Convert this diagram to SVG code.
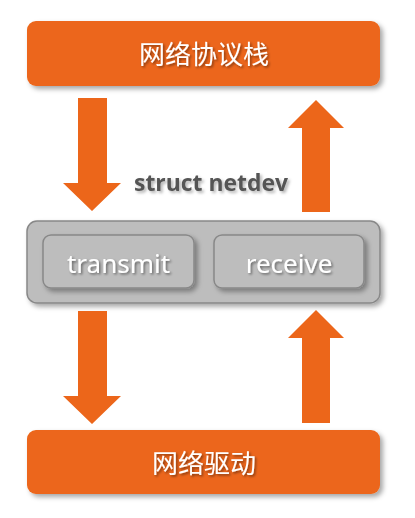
<svg xmlns="http://www.w3.org/2000/svg" width="415" height="518" viewBox="0 0 415 518">
<defs>
<filter id="sh" x="-10%" y="-20%" width="125%" height="150%">
<feDropShadow dx="3" dy="3" stdDeviation="2.5" flood-color="#000" flood-opacity="0.35"/>
</filter>
<filter id="tsh" x="-10%" y="-30%" width="125%" height="170%">
<feDropShadow dx="1.5" dy="1.5" stdDeviation="1" flood-color="#000" flood-opacity="0.45"/>
</filter>
<filter id="gsh" x="-10%" y="-30%" width="125%" height="170%">
<feDropShadow dx="2" dy="2" stdDeviation="1.5" flood-color="#000" flood-opacity="0.3"/>
</filter>
</defs>
<style>
.orange{fill:#EC661A;}
.box{fill:#EC661A;filter:url(#sh);}
.grey{fill:#BDBDBD;stroke:#888888;stroke-width:1.5;filter:url(#sh);}
.cjk{font-family:"Noto Sans CJK SC","Noto Sans",sans-serif;font-size:26px;fill:#FFFFFF;text-anchor:middle;filter:url(#tsh);}
.lbl{font-family:"Noto Sans","Open Sans",sans-serif;font-size:26px;fill:#FFFFFF;text-anchor:middle;filter:url(#tsh);}
.title{font-family:"Open Sans","Noto Sans",sans-serif;font-weight:bold;font-size:22.5px;fill:#555555;filter:url(#gsh);}
</style>
<rect width="415" height="518" fill="#FFFFFF"/>
<g id="stack">
<rect class="box" x="27" y="21" width="353" height="65" rx="9"/>
<text class="cjk" x="204" y="64">网络协议栈</text>
</g>
<g id="netdev">
<rect class="grey" x="27" y="221" width="353" height="82" rx="10"/>
<text class="title" x="134" y="191" textLength="154" lengthAdjust="spacingAndGlyphs">struct netdev</text>
</g>
<g id="transmit">
<rect class="grey" x="43" y="235" width="151" height="53" rx="8"/>
<text class="lbl" x="118.5" y="273">transmit</text>
</g>
<g id="receive">
<rect class="grey" x="214" y="235" width="150" height="53" rx="8"/>
<text class="lbl" x="289" y="273">receive</text>
</g>
<g id="driver">
<rect class="box" x="27" y="430" width="353" height="64" rx="9"/>
<text class="cjk" x="204" y="473">网络驱动</text>
</g>
<g id="connectors">
<polygon class="orange" points="78,98 107,98 107,183 121,183 92,211 63,183 78,183"/>
<polygon class="orange" points="302,212 330,212 330,128 344,128 316,100 288,128 302,128"/>
<polygon class="orange" points="78,311 107,311 107,396 121,396 92,424 63,396 78,396"/>
<polygon class="orange" points="302,423 330,423 330,338 344,338 316,310 288,338 302,338"/>
</g>
</svg>
